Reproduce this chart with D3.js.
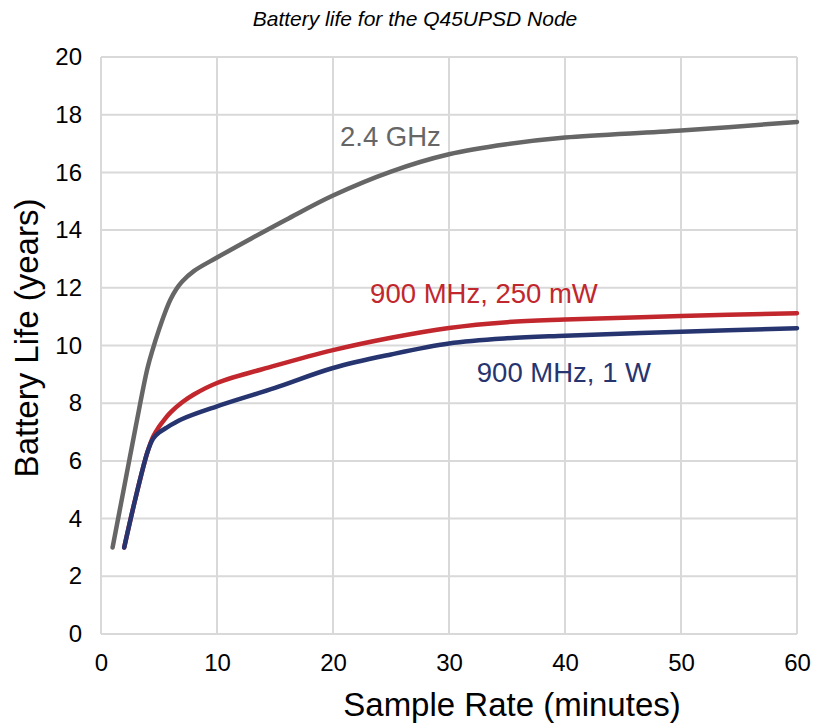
<!DOCTYPE html>
<html>
<head>
<meta charset="utf-8">
<script src="https://cdn.jsdelivr.net/npm/d3@7"></script>
<style>
  body { margin: 0; background: #fff; }
  text { font-family: "Liberation Sans", Arial, sans-serif; }
</style>
</head>
<body>
<svg id="chart"></svg>
<script>
// sample rate (minutes) and battery life (years)
const xGhz = [1, 2, 3, 4, 4.5, 5, 5.5, 6, 6.5, 7, 8, 10, 13, 16, 20, 25, 30, 35, 40, 50, 60];
const yGhz = [3, 5.1, 7.2, 9.2, 9.92, 10.55, 11.12, 11.6, 11.96, 12.22, 12.58, 13.05, 13.72, 14.37, 15.2, 16.03, 16.63, 16.98, 17.21, 17.45, 17.75];

const x250mW = [2, 3, 4, 4.5, 5, 5.5, 6, 7, 8, 10, 15, 20, 25, 30, 35, 40, 50, 60];
const y250mW = [3, 4.75, 6.3, 6.85, 7.18, 7.45, 7.68, 8.03, 8.3, 8.7, 9.3, 9.84, 10.27, 10.61, 10.81, 10.9, 11.02, 11.12];

const x1W = [2, 3, 4, 4.5, 5, 5.6, 7, 10, 15, 20, 25, 30, 35, 40, 50, 60];
const y1W = [3, 4.75, 6.3, 6.78, 6.98, 7.14, 7.45, 7.89, 8.53, 9.22, 9.69, 10.07, 10.25, 10.34, 10.48, 10.6];

const xTicks = [0, 10, 20, 30, 40, 50, 60];
const yTicks = [0, 2, 4, 6, 8, 10, 12, 14, 16, 18, 20];

const series = [
    { name: '2.4 GHz', xs: xGhz, ys: yGhz, color: '#666666', lx: 20.6, ly: 16.9 },
    { name: '900 MHz, 250 mW', xs: x250mW, ys: y250mW, color: '#c1272d', lx: 23.2, ly: 11.46 },
    { name: '900 MHz, 1 W', xs: x1W, ys: y1W, color: '#263470', lx: 32.4, ly: 8.75 }
];

const width = 816;
const height = 727;
const margin = { top: 57, right: 18, bottom: 93, left: 101 };

const svg = d3.select('#chart')
    .attr('width', width)
    .attr('height', height);

const x = d3.scaleLinear().domain([0, 60]).range([margin.left, width - margin.right - 1]);
const y = d3.scaleLinear().domain([0, 20]).range([height - margin.bottom, margin.top]);

// grid
svg.append('g')
    .selectAll('line')
    .data(xTicks)
    .join('line')
    .attr('x1', d => x(d)).attr('x2', d => x(d))
    .attr('y1', y(0)).attr('y2', y(20))
    .attr('stroke', '#d9d9d9').attr('stroke-width', 2);
svg.append('g')
    .selectAll('line')
    .data(yTicks)
    .join('line')
    .attr('x1', x(0)).attr('x2', x(60))
    .attr('y1', d => y(d)).attr('y2', d => y(d))
    .attr('stroke', '#d9d9d9').attr('stroke-width', 2);

// axes (labels only)
const xAxis = svg.append('g')
    .attr('transform', `translate(0,${y(0)})`)
    .call(d3.axisBottom(x).tickValues(xTicks).tickSize(0).tickPadding(20));
const yAxis = svg.append('g')
    .attr('transform', `translate(${x(0)},0)`)
    .call(d3.axisLeft(y).tickValues(yTicks).tickSize(0).tickPadding(19));
[xAxis, yAxis].forEach(a => {
    a.select('.domain').remove();
    a.selectAll('text')
        .style('font-family', '"Liberation Sans", Arial, sans-serif')
        .style('font-size', '24px')
        .attr('fill', '#000');
});

// lines, smoothed like the spreadsheet original
const line = d3.line().curve(d3.curveCatmullRom.alpha(0.5));
series.forEach(s => {
    const pts = s.xs.map((v, i) => [x(v), y(s.ys[i])]);
    svg.append('path')
        .attr('d', line(pts))
        .attr('fill', 'none')
        .attr('stroke', s.color)
        .attr('stroke-width', 4.5)
        .attr('stroke-linecap', 'round')
        .attr('stroke-linejoin', 'round');
    svg.append('text')
        .attr('x', x(s.lx))
        .attr('y', y(s.ly))
        .attr('fill', s.color)
        .style('font-size', '27.5px')
        .text(s.name);
});

// titles
svg.append('text')
    .attr('x', 415).attr('y', 26)
    .attr('text-anchor', 'middle')
    .style('font-size', '21px')
    .style('font-style', 'italic')
    .text('Battery life for the Q45UPSD Node');

svg.append('text')
    .attr('x', 512).attr('y', 716)
    .attr('text-anchor', 'middle')
    .style('font-size', '33px')
    .text('Sample Rate (minutes)');

svg.append('text')
    .attr('transform', `translate(38,338) rotate(-90)`)
    .attr('text-anchor', 'middle')
    .style('font-size', '33px')
    .text('Battery Life (years)');
</script>
</body>
</html>
